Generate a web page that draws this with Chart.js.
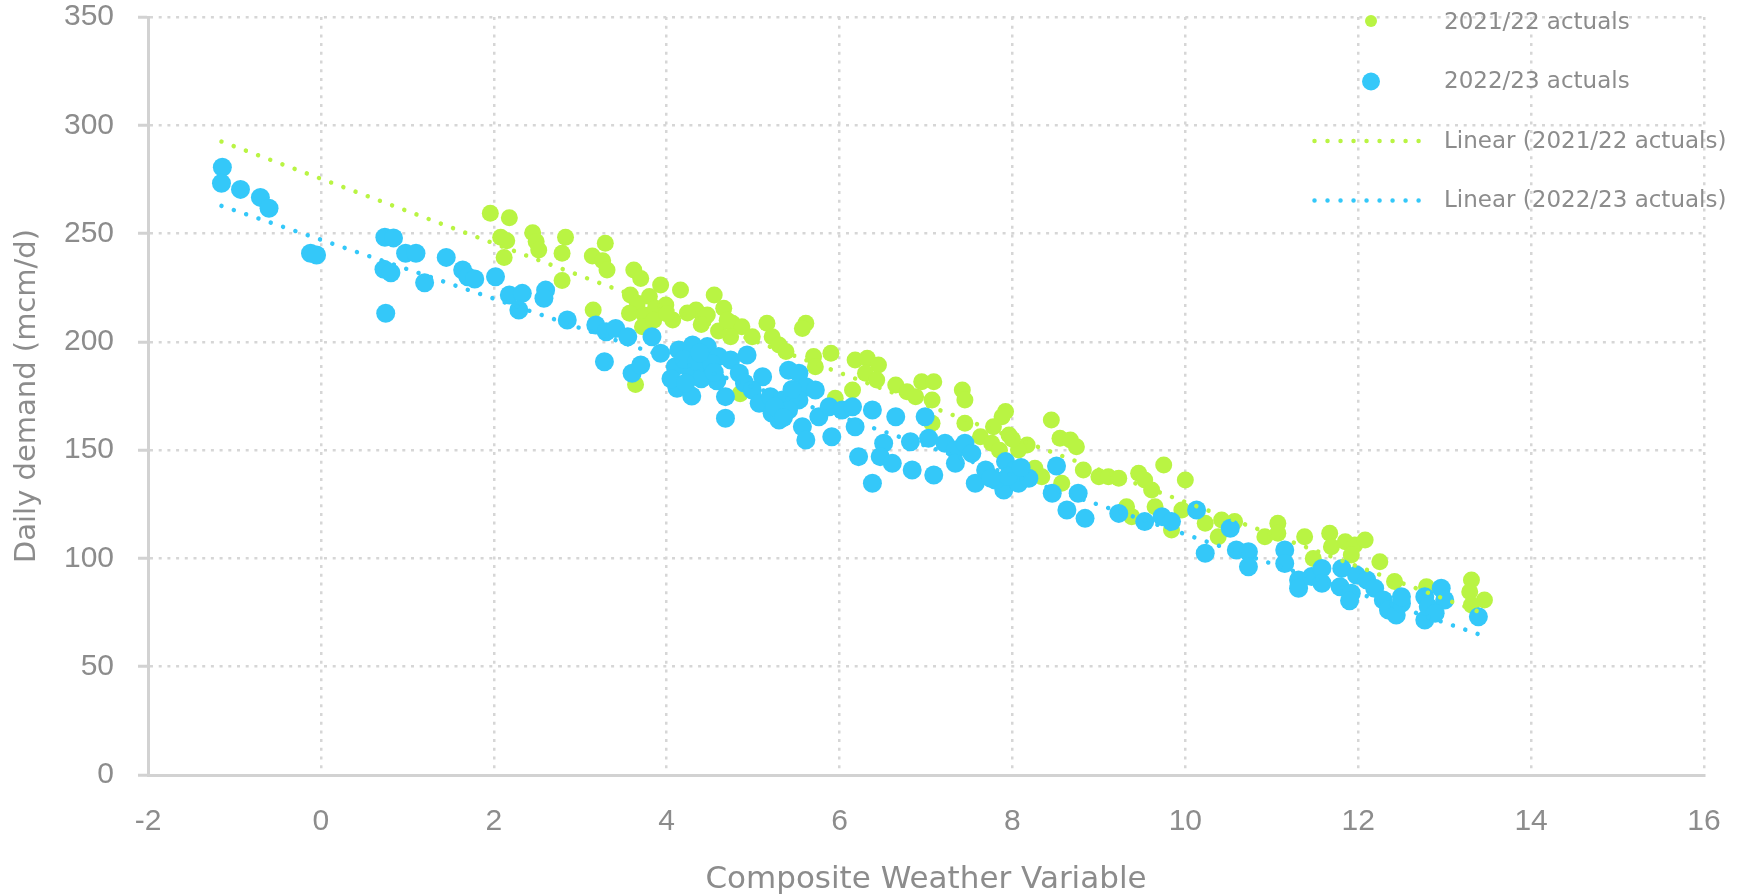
<!DOCTYPE html>
<html>
<head>
<meta charset="utf-8">
<script src="https://cdn.jsdelivr.net/npm/chart.js@4.4.1/dist/chart.umd.min.js"></script>
<style>
  html, body { margin: 0; padding: 0; background: #ffffff; }
  #wrap { width: 1743px; height: 895px; position: relative; }
</style>
</head>
<body>
<div id="wrap"><canvas id="c"></canvas></div>
<script>
// ---- Data ----
const seriesNames = ['2021/22 actuals', '2022/23 actuals', 'Linear (2021/22 actuals)', 'Linear (2022/23 actuals)'];

const cwv2122 = [1.96,2.18,2.08,2.15,2.12,2.45,2.49,2.52,2.83,2.79,2.79,3.14,3.29,3.26,3.31,3.15,3.62,3.70,3.93,4.16,
  3.58,3.66,3.80,3.57,3.74,3.87,3.99,4.07,3.72,4.34,4.47,4.55,3.64,4.24,4.66,4.45,4.76,4.87,5.16,5.61,
  5.57,4.74,4.99,5.22,5.30,5.38,5.70,5.90,5.72,6.18,6.32,6.45,6.30,6.43,6.15,6.65,6.78,6.95,7.09,6.88,
  7.07,7.42,7.45,7.45,5.95,7.07,4.85,7.92,7.88,7.78,7.63,7.96,7.76,8.17,8.07,8.26,8.34,8.45,8.55,8.67,
  8.74,8.57,8.82,9.00,9.11,9.23,9.46,9.53,9.61,9.75,10.00,9.32,9.38,9.65,9.84,9.96,10.23,10.42,10.57,10.38,
  10.92,11.07,11.07,11.38,11.48,11.67,11.69,11.85,11.96,12.08,11.92,12.25,12.42,12.79,13.31,13.29,13.46,13.31,
  3.85,4.00,4.60,4.70,4.40,7.85,8.00];
const demand2122 = [259.4,257.3,248.3,246.7,239.0,250.4,246.3,242.4,248.3,240.9,228.3,239.6,245.5,237.5,233.2,214.7,233.2,229.3,226.3,223.9,
  221.6,217.8,220.9,213.2,212.4,215.5,217.0,210.1,207.0,214.7,212.4,221.6,180.3,213.3,215.5,211.6,208.6,207.0,208.6,208.6,
  206.2,202.4,202.4,202.4,198.6,195.5,193.2,194.7,188.5,191.6,192.4,189.3,185.5,182.4,177.8,180.1,177.0,181.6,181.6,174.7,
  173.2,177.8,173.2,162.4,174.0,162.4,176.0,167.8,165.4,160.8,156.2,157.0,153.2,152.4,150.1,141.6,137.7,163.9,155.5,154.7,
  151.6,134.7,140.8,137.7,137.7,137.0,139.3,136.2,131.6,143.1,136.2,123.9,119.3,123.9,113.1,122.4,116.2,117.7,117.0,110.0,
  110.0,116.2,111.6,110.0,100.0,111.6,105.4,107.7,106.2,108.5,101.6,98.5,89.3,86.9,90.0,84.6,80.8,78.5,
  210.0,213.0,205.0,210.0,208.0,150.0,155.0];

const cwv2223 = [-1.14,-1.15,-0.93,-0.70,-0.60,-0.12,-0.05,0.74,0.84,0.73,0.81,0.98,1.10,1.20,0.75,1.45,1.64,1.70,1.78,2.02,
  2.18,2.33,2.29,2.60,2.58,2.85,3.18,3.30,3.41,3.55,3.28,3.60,3.70,3.83,3.93,4.14,4.30,4.47,4.10,4.26,
  4.45,4.12,4.29,4.58,4.60,4.74,4.93,4.84,4.90,4.68,4.68,5.11,4.99,5.07,5.20,5.34,5.22,5.30,5.41,5.53,
  5.61,5.72,5.53,5.41,5.57,5.61,5.76,5.88,5.91,6.03,6.15,6.18,6.22,6.38,6.51,6.47,6.38,6.65,6.61,6.82,
  6.84,6.99,7.03,7.09,7.22,7.34,7.34,7.45,7.53,7.57,7.69,7.92,7.90,8.03,8.07,8.19,7.80,8.51,8.46,8.63,
  8.76,8.84,9.23,9.53,9.73,9.84,10.13,10.23,10.52,10.59,10.73,10.73,11.15,11.15,11.31,11.31,11.46,11.58,11.58,11.81,
  11.79,11.92,11.90,11.98,12.10,12.19,12.29,12.35,12.44,12.50,12.50,12.77,12.77,12.81,12.96,13.00,12.89,13.39,
  4.20,4.35,4.40,4.05,4.52,4.38,4.22,4.55,5.25,5.45,5.35,7.95,8.10,7.75];
const demand2223 = [280.6,273.2,270.4,266.7,261.7,240.9,240.1,248.3,248.0,233.5,231.9,240.9,240.9,227.3,213.2,239.0,233.2,230.1,229.0,230.1,
  221.6,222.4,214.7,223.9,220.1,210.1,207.8,204.7,206.2,202.4,190.8,185.5,189.3,202.4,194.7,196.2,198.6,197.8,188.5,187.8,
  186.2,178.6,175.0,182.0,193.2,191.6,193.9,185.5,181.0,174.7,164.7,183.9,177.8,171.6,174.7,173.2,167.0,163.9,186.9,185.5,
  179.3,177.8,173.2,168.5,160.8,154.7,165.4,170.0,156.2,168.5,170.0,160.8,147.0,168.5,153.2,147.0,134.7,165.4,143.9,153.9,
  140.8,165.4,155.5,138.5,153.2,150.1,143.9,153.2,148.5,134.7,140.8,144.7,131.6,140.8,134.7,137.0,136.2,142.7,130.1,122.4,
  130.1,118.5,120.8,117.0,119.3,117.0,122.4,102.4,113.9,103.9,103.1,96.2,103.9,97.7,90.0,86.2,91.6,95.4,88.5,95.4,
  86.9,83.9,80.5,92.3,90.0,86.2,80.8,76.2,73.9,79.3,82.3,82.3,71.6,77.7,86.2,80.8,74.7,73.1,
  192.0,191.0,183.0,183.0,190.0,195.0,181.0,186.0,170.0,178.0,165.0,138.0,142.0,137.0];

// Trendline end points (as drawn in the reference)
const trendCwv = [-1.15, 13.4];
const trend2122 = [292.5, 75.3];
const trend2223 = [262.8, 64.9];

// Axis ticks
const xTicks = [-2, 0, 2, 4, 6, 8, 10, 12, 14, 16];
const yTicks = [0, 50, 100, 150, 200, 250, 300, 350];

// ---- Chart ----
const GREEN = '#b9f443';
const BLUE = '#34c8f9';
const TEXT = '#8c8c8c';
const GRID = '#d6d6d6';
const AXIS = '#d2d2d2';

const pts = (xs, ys) => xs.map((x, i) => ({ x: x, y: ys[i] }));

const cornerLegend = {
  id: 'cornerLegend',
  afterDraw(chart) {
    const { ctx, chartArea } = chart;
    const ds = chart.data.datasets;
    const right = chartArea.right, top = chartArea.top;
    const markerX = right - 333;
    const textX = right - 260;
    const rows = [
      { i: 0, kind: 'point', r: 6, my: top + 4, ty: top + 6.5 },
      { i: 1, kind: 'point', r: 9, my: top + 64.5, ty: top + 65 },
      { i: 2, kind: 'line', my: top + 124, ty: top + 125.5 },
      { i: 3, kind: 'line', my: top + 183.5, ty: top + 184.5 }
    ];
    ctx.save();
    rows.forEach(row => {
      const d = ds[row.i];
      if (row.kind === 'point') {
        ctx.beginPath();
        ctx.fillStyle = d.backgroundColor;
        ctx.arc(markerX, row.my, row.r, 0, Math.PI * 2);
        ctx.fill();
      } else {
        ctx.beginPath();
        ctx.strokeStyle = d.borderColor;
        ctx.lineWidth = d.borderWidth;
        ctx.lineCap = 'round';
        ctx.setLineDash(d.borderDash);
        ctx.moveTo(right - 389.5, row.my);
        ctx.lineTo(right - 282.5, row.my);
        ctx.stroke();
        ctx.setLineDash([]);
      }
      ctx.fillStyle = TEXT;
      ctx.font = '23px "DejaVu Sans"';
      ctx.textAlign = 'left';
      ctx.textBaseline = 'middle';
      ctx.fillText(d.label, textX, row.ty);
    });
    ctx.restore();
  }
};

new Chart(document.getElementById('c'), {
  type: 'scatter',
  data: {
    datasets: [
      {
        label: seriesNames[0],
        data: pts(cwv2122, demand2122),
        backgroundColor: GREEN,
        borderWidth: 0,
        pointRadius: 8.5,
        pointHoverRadius: 8.5,
        order: 3
      },
      {
        label: seriesNames[1],
        data: pts(cwv2223, demand2223),
        backgroundColor: BLUE,
        borderWidth: 0,
        pointRadius: 9.5,
        pointHoverRadius: 9.5,
        order: 2
      },
      {
        label: seriesNames[2],
        data: pts(trendCwv, trend2122),
        showLine: true,
        borderColor: GREEN,
        backgroundColor: GREEN,
        borderWidth: 4.5,
        borderDash: [0.01, 13],
        borderCapStyle: 'round',
        pointRadius: 0,
        pointHoverRadius: 0,
        order: 1
      },
      {
        label: seriesNames[3],
        data: pts(trendCwv, trend2223),
        showLine: true,
        borderColor: BLUE,
        backgroundColor: BLUE,
        borderWidth: 4.5,
        borderDash: [0.01, 13],
        borderCapStyle: 'round',
        pointRadius: 0,
        pointHoverRadius: 0,
        order: 0
      }
    ]
  },
  options: {
    responsive: true,
    maintainAspectRatio: false,
    animation: false,
    events: [],
    layout: { padding: { left: 0, top: 17, right: 39, bottom: 0 } },
    plugins: {
      legend: { display: false },
      tooltip: { enabled: false }
    },
    scales: {
      x: {
        type: 'linear',
        min: xTicks[0],
        max: xTicks[xTicks.length - 1],
        afterBuildTicks: (s) => { s.ticks = xTicks.map(v => ({ value: v })); },
        afterFit: (s) => { s.height = 120; s.paddingLeft = 0; s.paddingRight = 0; },
        ticks: {
          color: TEXT,
          padding: 29,
          autoSkip: false,
          maxRotation: 0,
          font: { family: '"Liberation Sans", Arial, sans-serif', size: 30 }
        },
        grid: {
          color: GRID,
          lineWidth: 2.5,
          drawTicks: false
        },
        border: { display: true, color: AXIS, width: 3, dash: [3, 5.7] },
        title: {
          display: true,
          text: 'Composite Weather Variable',
          color: TEXT,
          padding: { top: 0, bottom: 0 },
          font: { family: '"DejaVu Sans", sans-serif', size: 31, lineHeight: 1 }
        }
      },
      y: {
        type: 'linear',
        min: yTicks[0],
        max: yTicks[yTicks.length - 1],
        afterBuildTicks: (s) => { s.ticks = yTicks.map(v => ({ value: v })); },
        afterFit: (s) => { s.width = 148; s.paddingTop = 0; s.paddingBottom = 0; },
        ticks: {
          color: TEXT,
          padding: 24,
          font: { family: '"Liberation Sans", Arial, sans-serif', size: 30 }
        },
        grid: {
          color: GRID,
          lineWidth: 2.5,
          drawTicks: true,
          tickLength: 10,
          tickWidth: 3,
          tickColor: AXIS,
          tickBorderDash: []
        },
        border: { display: true, color: AXIS, width: 3, dash: [3, 5.7] },
        title: {
          display: true,
          text: 'Daily demand (mcm/d)',
          color: TEXT,
          padding: { top: 10, bottom: 0 },
          font: { family: '"DejaVu Sans", sans-serif', size: 29 }
        }
      }
    }
  },
  plugins: [cornerLegend]
});
</script>
</body>
</html>
